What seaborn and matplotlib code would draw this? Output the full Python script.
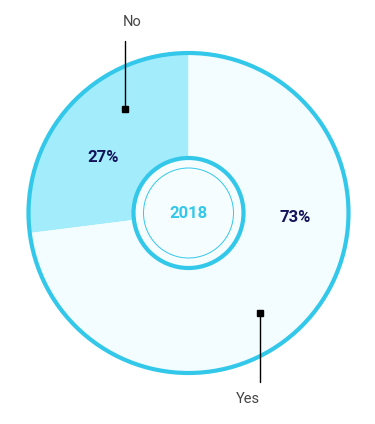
import matplotlib
matplotlib.use("Agg")
import matplotlib.pyplot as plt
from matplotlib.patches import Circle
import seaborn as sns

# data
categories = ["No", "Yes"]
shares = [27, 73]
center_label = "2018"

sns.set_theme(style="white")
plt.rcParams['font.family'] = ['Roboto', 'DejaVu Sans']

ring = "#33c8ea"
fills = ["#a2ecfb", "#f3fcff"]
navy = "#14145a"

fig = plt.figure(figsize=(3.75, 4.24), dpi=100)
ax = fig.add_axes([0, 0, 1, 1])

cx, cy, r = 188.5, 213, 160
# y axis is flipped below, so go clockwise from -90 in data space
wedges, _ = ax.pie(shares, colors=fills, startangle=-90, counterclock=False,
                   center=(cx, cy), radius=r, wedgeprops=dict(linewidth=0))
ax.set_xlim(0, 375)
ax.set_ylim(424, 0)
ax.set_aspect("equal")
ax.axis("off")

# outer ring
ax.add_patch(Circle((cx, cy), r, fill=False, edgecolor=ring, lw=3))
# inner rings
ax.add_patch(Circle((cx, cy), 55, facecolor="#f5fdff", edgecolor=ring, lw=3, zorder=3))
ax.add_patch(Circle((cx, cy), 45, fill=False, edgecolor=ring, lw=0.7, zorder=4))
ax.text(cx, cy, center_label, ha="center", va="center", color=ring,
        fontsize=12, fontweight="bold", zorder=5)

# percentage labels
ax.text(103, 158, f"{shares[0]}%", ha="center", va="center", color=navy,
        fontsize=12, fontweight="bold")
ax.text(295, 218, f"{shares[1]}%", ha="center", va="center", color=navy,
        fontsize=12, fontweight="bold")

# leader lines with square ends
ax.plot([125, 125], [41, 109], color="black", lw=1)
ax.plot([125], [109], marker="s", color="black", ms=5)
ax.text(132, 22, categories[0], ha="center", va="center", color="#444444", fontsize=10.5)

ax.plot([260, 260], [313, 382], color="black", lw=1)
ax.plot([260], [313], marker="s", color="black", ms=5)
ax.text(248, 399, categories[1], ha="center", va="center", color="#444444", fontsize=10.5)

fig.savefig("out.png", dpi=100, facecolor="white")
